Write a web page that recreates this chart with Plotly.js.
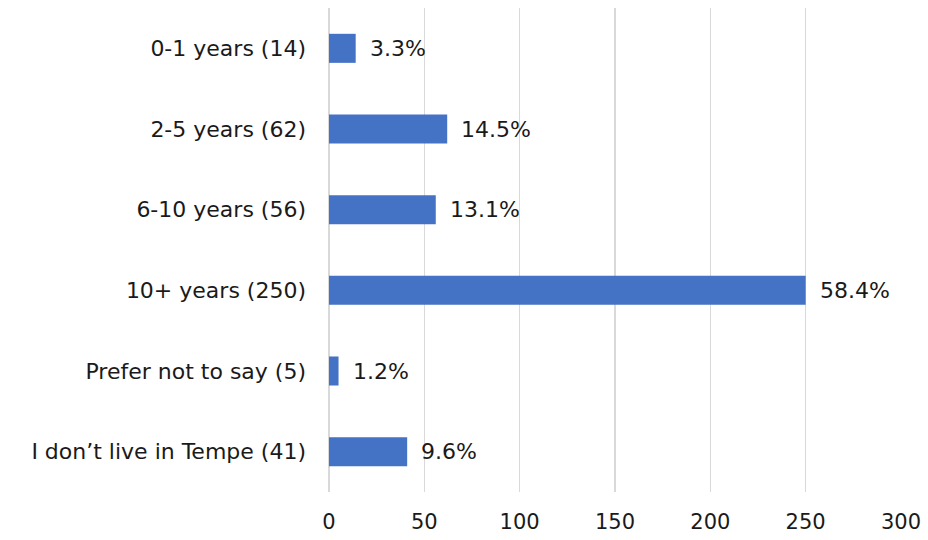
<!DOCTYPE html>
<html>
<head>
<meta charset="utf-8">
<script src="https://cdn.plot.ly/plotly-3.0.1.min.js"></script>
<style>html,body{margin:0;padding:0;background:#fff;}#chart{width:928px;height:540px;}</style>
</head>
<body>
<div id="chart"></div>
<script>
const categories = ["0-1 years (14)", "2-5 years (62)", "6-10 years (56)", "10+ years (250)", "Prefer not to say (5)", "I don\u2019t live in Tempe (41)"];
const counts = [14, 62, 56, 250, 5, 41];
const percentLabels = ["3.3%", "14.5%", "13.1%", "58.4%", "1.2%", "9.6%"];
const xTicks = [0, 50, 100, 150, 200, 250, 300];

const fontFamily = "'DejaVu Sans', sans-serif";
const textColor = "#1a1a1a";

const trace = {
  type: "bar",
  orientation: "h",
  x: counts,
  y: categories,
  marker: {color: "#4472C4"},
  width: 0.36,
  hoverinfo: "none"
};

const annotations = counts.map((v, i) => ({
  x: v, y: categories[i], xref: "x", yref: "y",
  text: percentLabels[i], showarrow: false,
  xanchor: "left", yanchor: "middle", xshift: 12,
  font: {family: fontFamily, size: 22, color: textColor}
}));

const layout = {
  width: 928, height: 540,
  margin: {l: 329, r: 27, t: 8, b: 48},
  paper_bgcolor: "#fff", plot_bgcolor: "#fff",
  showlegend: false,
  font: {family: fontFamily, size: 22, color: textColor},
  xaxis: {
    range: [0, 300], tickvals: xTicks, ticktext: xTicks.map(String),
    showgrid: true, gridcolor: "#d9d9d9", gridwidth: 1.5,
    zeroline: true, zerolinecolor: "#d9d9d9", zerolinewidth: 1.5,
    showline: false, ticks: "", ticklabelstandoff: 15,
    tickfont: {family: fontFamily, size: 21, color: textColor},
    fixedrange: true
  },
  yaxis: {
    type: "category", autorange: "reversed",
    showgrid: false, zeroline: false, showline: false, ticks: "",
    ticklabelstandoff: 22,
    tickfont: {family: fontFamily, size: 22, color: textColor},
    fixedrange: true
  },
  annotations: annotations
};

Plotly.newPlot("chart", [trace], layout, {displayModeBar: false, staticPlot: true});
</script>
</body>
</html>
